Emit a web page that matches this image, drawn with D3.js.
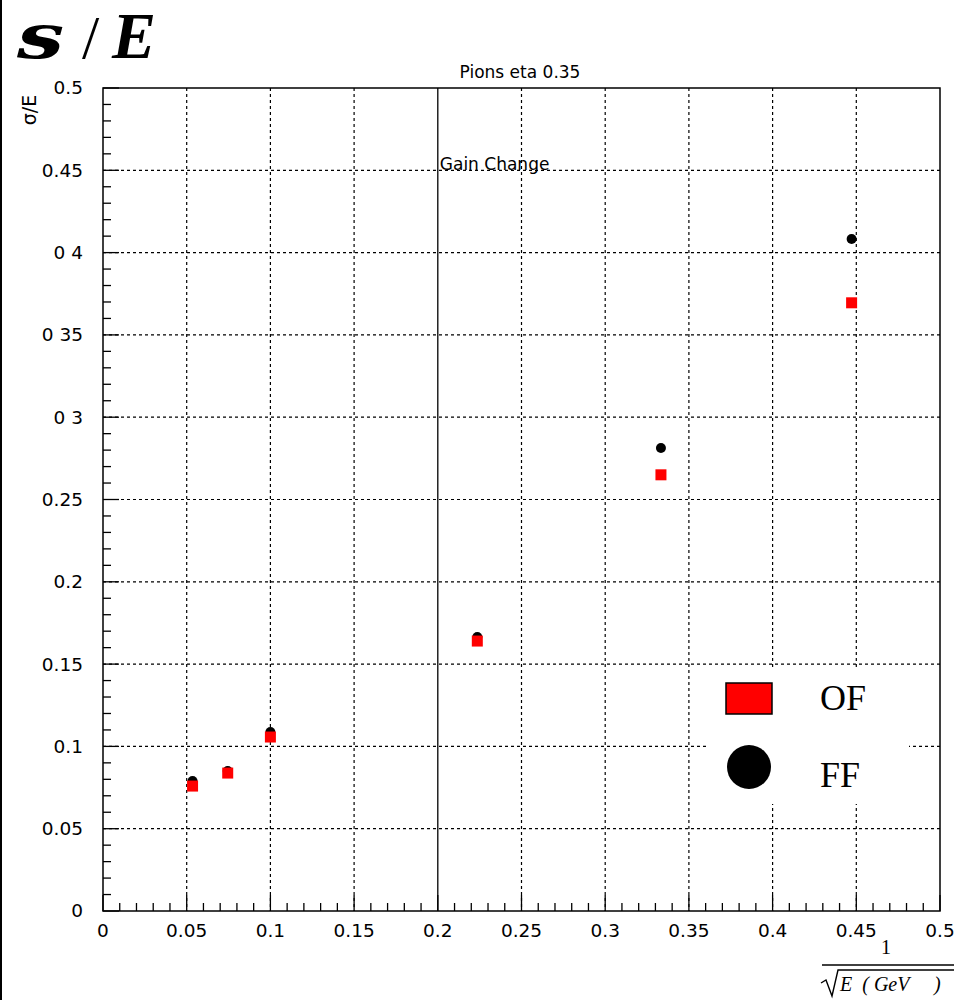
<!DOCTYPE html>
<html>
<head>
<meta charset="utf-8">
<script src="https://cdn.jsdelivr.net/npm/d3@7"></script>
<style>
  html, body { margin: 0; padding: 0; background: #fff; }
  svg { display: block; }
</style>
</head>
<body>
<script>
// Resolution sigma/E versus 1/sqrt(E) for pions at eta 0.35
const invSqrtE = [0.0535, 0.0745, 0.1, 0.2236, 0.3333, 0.4472];
const ofValues = [0.0759, 0.0838, 0.1057, 0.1640, 0.2650, 0.3695];
const ffValues = [0.0790, 0.0850, 0.1087, 0.1665, 0.2813, 0.4083];
const xTickValues = [0, 0.05, 0.1, 0.15, 0.2, 0.25, 0.3, 0.35, 0.4, 0.45, 0.5];
const xTickLabels = ["0", "0.05", "0.1", "0.15", "0.2", "0.25", "0.3", "0.35", "0.4", "0.45", "0.5"];
const yTickValues = [0, 0.05, 0.1, 0.15, 0.2, 0.25, 0.3, 0.35, 0.4, 0.45, 0.5];
const yTickLabels = ["0", "0.05", "0.1", "0.15", "0.2", "0.25", "0 3", "0 35", "0 4", "0.45", "0.5"];
const gainChangeX = 0.2;

const W = 965, H = 1000;
const plotL = 103, plotR = 940, plotT = 88, plotB = 911;
const font = "'DejaVu Sans', sans-serif";
const serif = "'Liberation Serif', 'Times New Roman', serif";

const svg = d3.select("body").append("svg").attr("width", W).attr("height", H);
svg.append("rect").attr("width", W).attr("height", H).attr("fill", "#fff");
// left border of the canvas
svg.append("line").attr("x1", 1).attr("x2", 1).attr("y1", 0).attr("y2", H)
  .attr("stroke", "#000").attr("stroke-width", 2);

const x = d3.scaleLinear().domain([0, 0.5]).range([plotL, plotR]);
const y = d3.scaleLinear().domain([0, 0.5]).range([plotB, plotT]);

// dashed grid
const grid = svg.append("g").attr("stroke", "#000").attr("stroke-width", 1.2)
  .attr("stroke-dasharray", "3,3");
xTickValues.slice(1, -1).forEach(v => {
  if (v === gainChangeX) return;
  grid.append("line").attr("x1", x(v)).attr("x2", x(v)).attr("y1", plotT).attr("y2", plotB);
});
yTickValues.slice(1, -1).forEach(v => {
  grid.append("line").attr("x1", plotL).attr("x2", plotR).attr("y1", y(v)).attr("y2", y(v));
});

// gain change marker
svg.append("line").attr("x1", x(gainChangeX)).attr("x2", x(gainChangeX))
  .attr("y1", plotT).attr("y2", plotB).attr("stroke", "#000").attr("stroke-width", 1.3);
svg.append("text").attr("x", x(gainChangeX) + 2).attr("y", 170)
  .attr("font-family", font).attr("font-size", 17).attr("fill", "#000")
  .text("Gain Change");

// axes with major and minor ticks
const xMinor = d3.range(0, 0.5001, 0.01);
const yMinor = d3.range(0, 0.5001, 0.01);
const ax = svg.append("g").attr("stroke", "#000").attr("stroke-width", 1.3);
xMinor.forEach((v, i) => {
  const len = i % 5 === 0 ? 16 : 8;
  ax.append("line").attr("x1", x(v)).attr("x2", x(v)).attr("y1", plotB).attr("y2", plotB - len);
});
yMinor.forEach((v, i) => {
  const len = i % 5 === 0 ? 16 : 8;
  ax.append("line").attr("x1", plotL).attr("x2", plotL + len).attr("y1", y(v)).attr("y2", y(v));
});

// frame
svg.append("rect").attr("x", plotL).attr("y", plotT).attr("width", plotR - plotL).attr("height", plotB - plotT)
  .attr("fill", "none").attr("stroke", "#000").attr("stroke-width", 1.5);

// tick labels
svg.append("g").selectAll("text").data(xTickValues).join("text")
  .attr("x", d => x(d)).attr("y", 937)
  .attr("text-anchor", "middle").attr("font-family", font).attr("font-size", 18.5)
  .text((d, i) => xTickLabels[i]);
svg.append("g").selectAll("text").data(yTickValues).join("text")
  .attr("x", 83).attr("y", d => y(d)).attr("dy", "0.35em")
  .attr("text-anchor", "end").attr("font-family", font).attr("font-size", 18.5)
  .text((d, i) => yTickLabels[i]);

// plot title
svg.append("text").attr("x", 520).attr("y", 78).attr("text-anchor", "middle")
  .attr("font-family", font).attr("font-size", 17).text("Pions eta 0.35");

// big header "s / E"
svg.append("text").attr("transform", "translate(17,58) scale(1.35,1)")
  .attr("font-family", "'DejaVu Serif', serif").attr("font-weight", "bold").attr("font-style", "italic")
  .attr("font-size", 62).text("s");
svg.append("text").attr("x", 82).attr("y", 58)
  .attr("font-family", serif).attr("font-size", 62).text("/");
svg.append("text").attr("x", 112).attr("y", 58)
  .attr("font-family", serif).attr("font-style", "italic").attr("font-weight", "bold")
  .attr("font-size", 66).text("E");

// y axis title
svg.append("text").attr("transform", "translate(36,110) rotate(-90)")
  .attr("text-anchor", "middle").attr("font-family", font).attr("font-size", 19).text("σ/E");

// x axis title: 1 / sqrt(E (GeV ))
svg.append("text").attr("x", 886).attr("y", 954).attr("text-anchor", "middle")
  .attr("font-family", serif).attr("font-size", 20).text("1");
svg.append("line").attr("x1", 822).attr("x2", 954).attr("y1", 965).attr("y2", 965)
  .attr("stroke", "#000").attr("stroke-width", 1.5);
svg.append("path").attr("d", "M821,983 L826,980 L832,996 L838,970 L954,970")
  .attr("fill", "none").attr("stroke", "#000").attr("stroke-width", 1.4);
svg.append("text").attr("x", 840).attr("y", 991).attr("font-family", serif).attr("font-size", 20)
  .attr("font-style", "italic").attr("xml:space", "preserve").text("E  ( GeV     )");

// data: FF markers below, OF squares on top
svg.append("g").selectAll("circle").data(invSqrtE).join("circle")
  .attr("cx", d => x(d)).attr("cy", (d, i) => y(ffValues[i])).attr("r", 5)
  .attr("fill", "#000");
const sq = 11;
svg.append("g").selectAll("rect").data(invSqrtE).join("rect")
  .attr("x", d => x(d) - sq / 2).attr("y", (d, i) => y(ofValues[i]) - sq / 2)
  .attr("width", sq).attr("height", sq).attr("fill", "#ff0000");

// legend
const lg = svg.append("g");
lg.append("rect").attr("x", 708).attr("y", 668).attr("width", 201).attr("height", 136).attr("fill", "#fff");
lg.append("rect").attr("x", 726).attr("y", 683).attr("width", 46).attr("height", 31)
  .attr("fill", "#ff0000").attr("stroke", "#000").attr("stroke-width", 1.5);
lg.append("circle").attr("cx", 749).attr("cy", 767).attr("r", 22).attr("fill", "#000");
lg.append("text").attr("x", 820).attr("y", 710).attr("font-family", serif).attr("font-size", 36).text("OF");
lg.append("text").attr("x", 820).attr("y", 787).attr("font-family", serif).attr("font-size", 36).text("FF");
</script>
</body>
</html>
